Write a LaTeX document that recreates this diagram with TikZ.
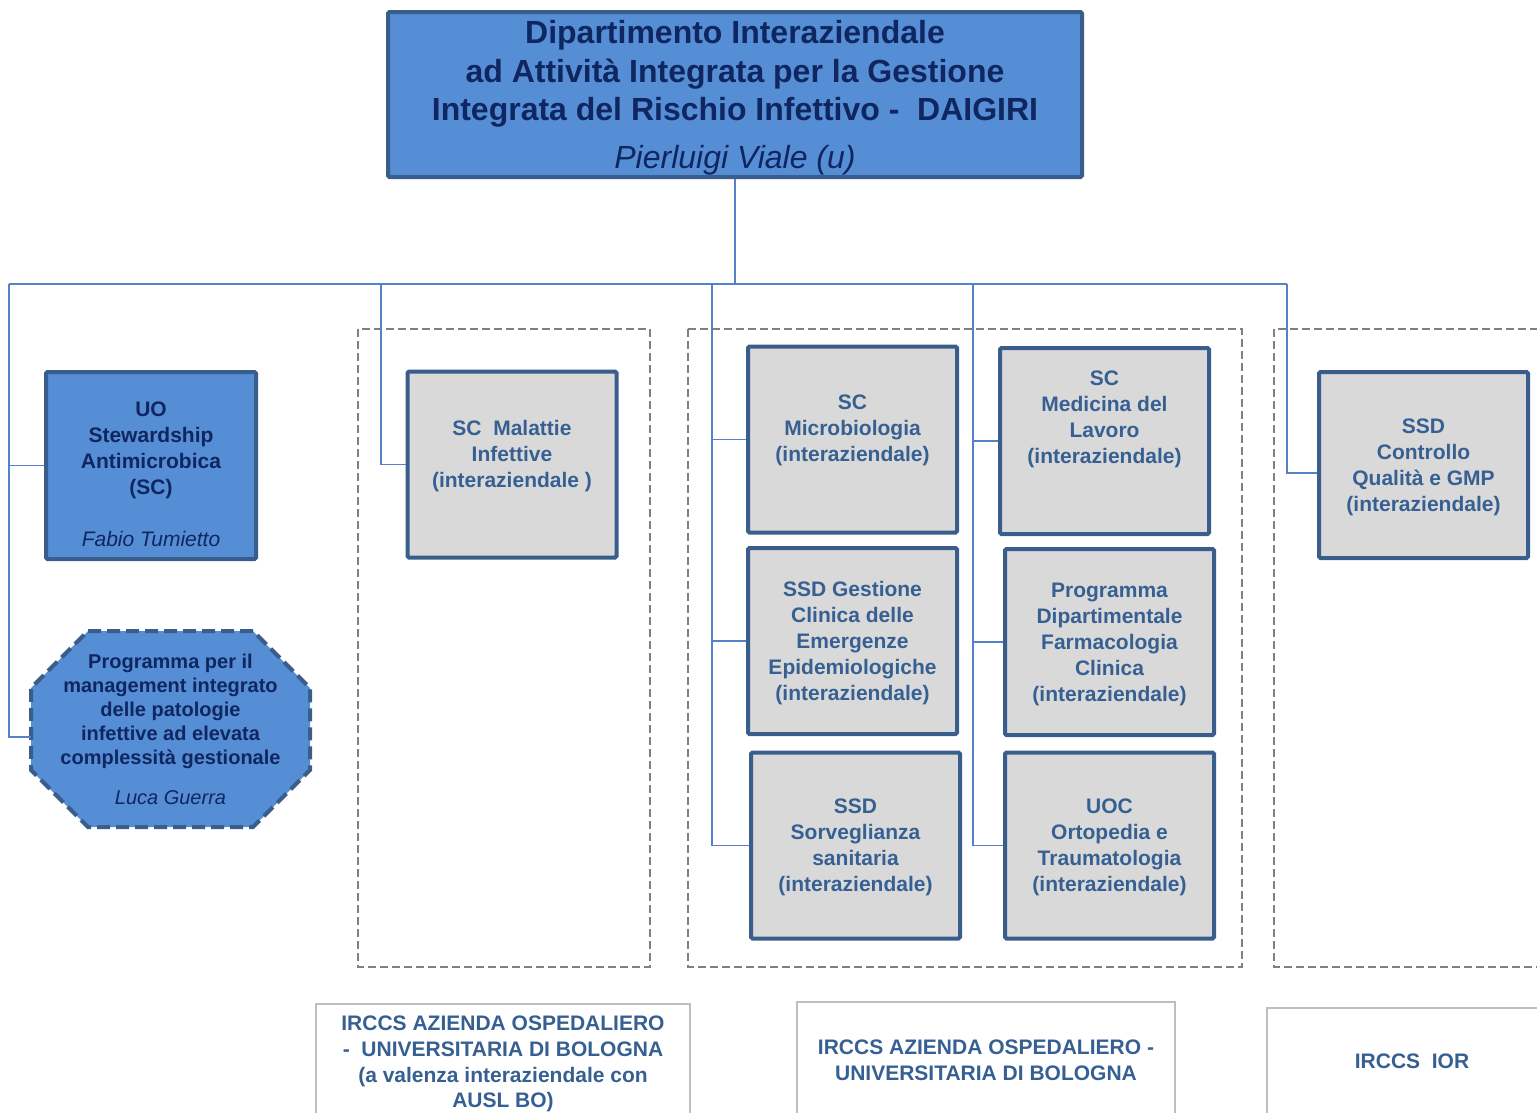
\documentclass[tikz,border=0pt]{standalone}
\usepackage{fontspec}
\setmainfont{Liberation Sans}
\usetikzlibrary{positioning, backgrounds}

\definecolor{deptblue}{RGB}{85,142,213}
\definecolor{edgeblue}{RGB}{58,94,140}
\definecolor{navytext}{RGB}{16,38,96}
\definecolor{unitgray}{RGB}{217,217,217}
\definecolor{unittext}{RGB}{55,96,146}
\definecolor{linkblue}{RGB}{84,128,204}
\definecolor{groupgray}{RGB}{128,128,128}
\definecolor{framegray}{RGB}{191,191,191}

\tikzset{
  bluebox/.style={rectangle, draw=edgeblue, line width=4pt, fill=deptblue,
    rounded corners=1.5pt, inner sep=0pt, align=center, text=navytext,
    font=\fontsize{21}{26}\selectfont\bfseries},
  unitbox/.style={rectangle, draw=edgeblue, line width=4pt, fill=unitgray,
    rounded corners=1.5pt, inner sep=0pt, align=center, text=unittext,
    minimum width=209pt, minimum height=186pt, text depth=-11pt,
    font=\fontsize{21}{26}\selectfont\bfseries},
  progbox/.style={rectangle, inner sep=0pt, outer sep=0pt,
    minimum width=279pt, minimum height=196pt, align=center, text=navytext,
    font=\fontsize{20}{24}\selectfont\bfseries},
  progframe/.style={draw=edgeblue, line width=4pt, fill=deptblue,
    dash pattern=on 13pt off 6pt},
  sitebox/.style={rectangle, draw=framegray, line width=2pt, fill=white,
    inner sep=0pt, align=center, text=unittext,
    font=\fontsize{21}{25.7}\selectfont\bfseries},
  group/.style={draw=groupgray, line width=2pt, dash pattern=on 8pt off 4pt},
  link/.style={draw=linkblue, line width=1.2pt},
  lift/.style={text depth=#1}
}

\begin{document}
\begin{tikzpicture}[x=1pt, y=-1pt]
\useasboundingbox (0,0) rectangle (1537,1112);

% Groups by hospital
\draw[group] (358,329) rectangle (650,967);
\draw[group] (688,329) rectangle (1242,967);
\draw[group] (1274,329) rectangle (1560,967);

% Department
\node[bluebox, minimum width=694pt, minimum height=165pt, text depth=0pt,
      font=\fontsize{32}{38.5}\selectfont\bfseries] (dept) at (735,94.5)
      {Dipartimento Interaziendale\\ad Attività Integrata per la Gestione\\
       Integrata del Rischio Infettivo -\ \ DAIGIRI\\[9.5pt]
       {\mdseries\itshape Pierluigi Viale (u)}};

% Units
\node[bluebox, minimum width=210pt, minimum height=187pt, text height=162pt,
      text depth=0pt] (steward) at (151,465.5)
      {UO\\Stewardship\\Antimicrobica\\(SC)\\[26pt]{\mdseries\itshape Fabio Tumietto}};
\node[progbox] (prog) at (170.5,729)
      {Programma per il\\management integrato\\delle patologie\\infettive ad elevata\\
       complessità gestionale\\[16pt]{\mdseries\itshape Luca Guerra}};
\begin{scope}[on background layer]
\filldraw[progframe] ([xshift=57pt]prog.north west) -- ([xshift=-57pt]prog.north east)
  -- ([yshift=-57pt]prog.north east) -- ([yshift=57pt]prog.south east)
  -- ([xshift=-57pt]prog.south east) -- ([xshift=57pt]prog.south west)
  -- ([yshift=57pt]prog.south west) -- ([yshift=-57pt]prog.north west) -- cycle;
\end{scope}
\node[unitbox, lift=20.5pt] (malattie) at (512,464.5)
      {SC\ \ Malattie\\Infettive\\(interaziendale )};
\node[unitbox, lift=23pt] (micro) at (852.5,439.5)
      {SC\\Microbiologia\\(interaziendale)};
\node[unitbox] (emerg) at (852.5,641)
      {SSD Gestione\\Clinica delle\\Emergenze\\Epidemiologiche\\(interaziendale)};
\node[unitbox] (sorv) at (855.5,845.5)
      {SSD\\Sorveglianza\\sanitaria\\(interaziendale)};
\node[unitbox, lift=48pt] (lavoro) at (1104.5,441)
      {SC\\Medicina del\\Lavoro\\(interaziendale)};
\node[unitbox] (farma) at (1109.5,642)
      {Programma\\Dipartimentale\\Farmacologia\\Clinica\\(interaziendale)};
\node[unitbox] (orto) at (1109.5,845.5)
      {UOC\\Ortopedia e\\Traumatologia\\(interaziendale)};
\node[unitbox] (qualita) at (1423.5,465)
      {SSD\\Controllo\\Qualità e GMP\\(interaziendale)};

% Hospitals
\node[sitebox, minimum width=374pt, minimum height=116pt, text depth=0pt] (aousl) at (503,1062)
      {IRCCS AZIENDA OSPEDALIERO\\-\ \ UNIVERSITARIA DI BOLOGNA\\
       (a valenza interaziendale con\\AUSL BO)};
\node[sitebox, minimum width=378pt, minimum height=117pt] (aou) at (986,1060.5)
      {IRCCS AZIENDA OSPEDALIERO -\\UNIVERSITARIA DI BOLOGNA};
\node[sitebox, minimum width=290pt, minimum height=106pt] (ior) at (1412,1061)
      {IRCCS\ \ IOR};

% Connectors
\coordinate (busL) at (9,284);
\coordinate (busM) at (381,284);
\coordinate (busC) at (712,284);
\coordinate (busD) at (973,284);
\coordinate (busR) at (1287,284);
\draw[link] (dept.south) -- (dept.south |- busL);
\draw[link] (busL) -- (busR);
\draw[link] (busL) |- ([yshift=-8pt]prog.west);
\draw[link] (busL |- steward.west) -- (steward.west);
\draw[link] (busM) |- (malattie.west);
\draw[link] (busC) |- (sorv.west);
\draw[link] (busC |- micro.west) -- (micro.west);
\draw[link] (busC |- emerg.west) -- (emerg.west);
\draw[link] (busD) |- (orto.west);
\draw[link] (busD |- lavoro.west) -- (lavoro.west);
\draw[link] (busD |- farma.west) -- (farma.west);
\draw[link] (busR) |- ([yshift=-8pt]qualita.west);

\end{tikzpicture}
\end{document}
